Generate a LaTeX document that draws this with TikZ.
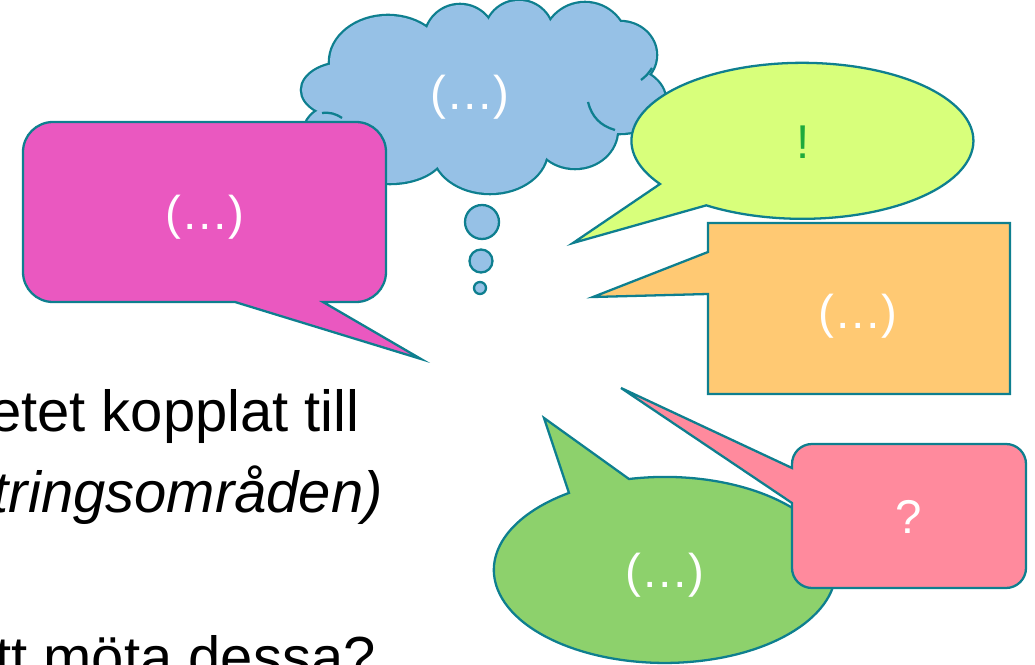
\documentclass[tikz,border=0pt]{standalone}
\usepackage{fontspec}
\setmainfont{Liberation Sans}
\usepackage{xcolor}
\usepackage{tikz}

\definecolor{rim}{RGB}{14,127,143}
\definecolor{cloudblue}{RGB}{150,193,230}
\definecolor{magentabox}{RGB}{234,88,192}
\definecolor{limebox}{RGB}{216,255,123}
\definecolor{orangebox}{RGB}{255,201,115}
\definecolor{greenbox}{RGB}{141,209,108}
\definecolor{pinkbox}{RGB}{255,138,157}
\definecolor{bang}{RGB}{30,170,60}

% puffs of the cloud: centre x / centre y / x radius / y radius
\def\puffs{345/90/43/27, 388/62/58/46, 460/40/35/35, 519/35/34/34,
  585/45/42/42, 620/55/36/33, 620/100/45/33, 575/130/42/38,
  490/150/57/43, 390/150/55/33, 340/130/35/25}

\begin{document}
\begin{tikzpicture}[x=0.02cm, y=-0.02cm,
    bubble/.style={draw=rim, line width=1.3pt},
    bubbletext/.style={text=white, font=\fontsize{27}{32}\selectfont, inner sep=0pt},
    slidetext/.style={font=\fontsize{33}{40}\selectfont, anchor=base east, inner sep=0pt}]
  \useasboundingbox (0,0) rectangle (1035,665);
  \clip (0,0) rectangle (1035,665);

  \node[slidetext] (line1) at (360,432) {etet kopplat till};
  \node[slidetext] (line2) at (383,513) {\itshape tringsområden)};
  \node[slidetext] (line3) at (376,677) {tt möta dessa?};

  % cloud: doubled strokes first, the fill on top leaves the outer rim
  \foreach \cx/\cy/\rx/\ry in \puffs
    \draw[rim, line width=2.6pt] (\cx,\cy) ellipse [x radius=\rx, y radius=\ry];
  \foreach \cx/\cy/\rx/\ry in \puffs
    \fill[cloudblue] (\cx,\cy) ellipse [x radius=\rx, y radius=\ry];
  \fill[cloudblue] (480,95) ellipse [x radius=140, y radius=60];
  \draw[rim, line width=1.3pt] (322,113) to[bend left=20] (342,118);
  \draw[rim, line width=1.3pt] (652,68) to[bend left=10] (641,80);
  \draw[rim, line width=1.3pt] (588,102) to[bend right=30] (615,130);
  \node[bubbletext] (cloudtext) at (470,97) {(…)};

  \draw[bubble, fill=cloudblue] (482,222) circle [radius=17];
  \draw[bubble, fill=cloudblue] (481,261) circle [radius=11.5];
  \draw[bubble, fill=cloudblue] (480,288) circle [radius=6];

  % magenta box
  \draw[bubble, fill=magentabox] (235,302) -- (53,302)
    arc [start angle=90, end angle=180, radius=30] -- (23,152)
    arc [start angle=180, end angle=270, radius=30] -- (356,122)
    arc [start angle=270, end angle=360, radius=30] -- (386,272)
    arc [start angle=0, end angle=90, radius=30] -- (323,302) -- (421,359) -- cycle;
  \node[bubbletext] (magtext) at (205,217) {(…)};

  % lime oval
  \draw[bubble, fill=limebox] (573,243) -- (660,184)
    arc [start angle=146.4, end angle=484.2, x radius=171, y radius=78] -- cycle;
  \node[bubbletext, text=bang] (limetext) at (803,142) {!};

  % orange box
  \draw[bubble, fill=orangebox] (593,297) -- (708,294) -- (708,394) -- (1010,394)
    -- (1010,223) -- (708,223) -- (708,252) -- cycle;
  \node[bubbletext] (orangetext) at (858,316) {(…)};

  % green oval
  \draw[bubble, fill=greenbox] (544,418) -- (629,479)
    arc [start angle=257.9, end angle=595.9, x radius=171, y radius=93] -- cycle;
  \node[bubbletext] (greentext) at (665,575) {(…)};

  % pink box
  \draw[bubble, fill=pinkbox] (792,503) -- (621,388) -- (792,468) -- (792,464)
    arc [start angle=180, end angle=270, radius=20] -- (1006,444)
    arc [start angle=270, end angle=360, radius=20] -- (1026,568)
    arc [start angle=0, end angle=90, radius=20] -- (812,588)
    arc [start angle=90, end angle=180, radius=20] -- cycle;
  \node[bubbletext] (pinktext) at (909,517) {?};
\end{tikzpicture}
\end{document}
